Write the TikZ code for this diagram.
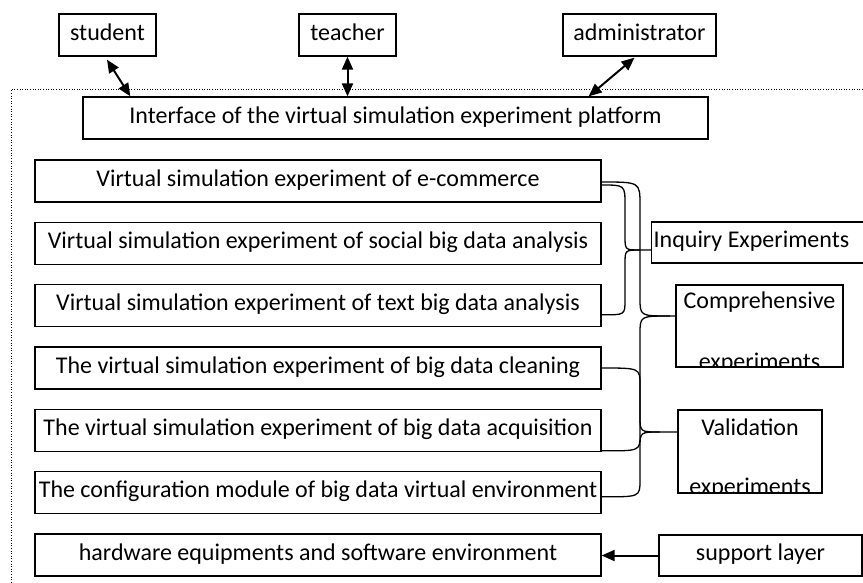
\documentclass[tikz,border=0pt]{standalone}
\usepackage{fontspec}
\setmainfont{Carlito}
\usetikzlibrary{arrows.meta,calc}
\begin{document}
\begin{tikzpicture}[x=1pt,y=-1pt,
  txt/.style={font=\fontsize{24}{28}\selectfont, inner sep=0pt},
  box/.style={draw, line width=1.3pt, inner sep=0pt, font=\fontsize{24}{28}\selectfont, text height=16pt, text depth=6pt},
  frame/.style={draw, line width=1.3pt, inner sep=0pt},
  conn/.style={line width=1.3pt},
  dbl/.style={line width=2pt, {Triangle[length=13pt,width=11pt]}-{Triangle[length=13pt,width=11pt]}},
  sgl/.style={line width=2pt, -{Triangle[length=13pt,width=11pt]}},
]
\useasboundingbox (0,0) rectangle (863,582);
\draw[line width=1pt, dash pattern=on 1pt off 1.6pt] (863,89) -- (11.5,89) -- (11.5,582);

% top roles
\node[box, minimum width=97pt, minimum height=42pt] (student) at (107.5,35) {student};
\node[box, minimum width=97pt, minimum height=42pt] (teacher) at (347.5,35) {teacher};
\node[box, minimum width=153pt, minimum height=42pt] (admin) at (639.5,35) {administrator};

% interface
\node[box, minimum width=625pt, minimum height=42pt] (iface) at (395.5,118) {Interface of the virtual simulation experiment platform};

% experiment boxes
\node[box, minimum width=566pt, minimum height=42pt] (e1) at (318,181) {Virtual simulation experiment of e-commerce};
\node[box, minimum width=566pt, minimum height=42pt] (e2) at (318,243.3) {Virtual simulation experiment of social big data analysis};
\node[box, minimum width=566pt, minimum height=42pt] (e3) at (318,305.7) {Virtual simulation experiment of text big data analysis};
\node[box, minimum width=566pt, minimum height=42pt] (e4) at (318,368) {The virtual simulation experiment of big data cleaning};
\node[box, minimum width=566pt, minimum height=42pt] (e5) at (318,430.3) {The virtual simulation experiment of big data acquisition};
\node[box, minimum width=566pt, minimum height=42pt] (e6) at (318,492.7) {The configuration module of big data virtual environment};
\node[box, minimum width=566pt, minimum height=42pt] (e7) at (318,555) {hardware equipments and software environment};

% right side categories
\node[box, anchor=west, minimum height=41pt, text width=228pt, align=flush left, inner xsep=2pt] (inq) at (651,242.5) {Inquiry Experiments};

\node[frame, minimum width=167pt, minimum height=82pt] (comp) at (759.5,326) {};
\node[txt, anchor=base] (compa) at (759.5,308.5) {Comprehensive};
\begin{scope}
  \clip (comp.south west) rectangle (comp.north east);
  \node[txt, anchor=base] (compb) at (759.5,369.5) {experiments};
\end{scope}

\node[frame, minimum width=144pt, minimum height=83pt] (val) at (750,451.5) {};
\node[txt, anchor=base] (vala) at (750,435) {Validation};
\begin{scope}
  \clip (val.south west) rectangle (val.north east);
  \node[txt, anchor=base] (valb) at (750,494.5) {experiments};
\end{scope}

\node[box, minimum width=203pt, minimum height=41pt] (sup) at (760.5,555.5) {support layer};

% arrows
\draw[dbl] ($(student.south)+(-0.5,3)$) -- ($(iface.north west)+(48,0)$);
\draw[dbl] (teacher.south) -- (iface.north -| teacher.south);
\draw[dbl] ($(admin.south)+(-5,1)$) -- ($(iface.north east)+(-120,0)$);
\draw[sgl] (sup.west) -- (e7.east |- sup.west);

% braces
\coordinate (tI) at (640,250);
\coordinate (tC) at (670,316);
\coordinate (tV) at (660,432);
% Inquiry
\draw[conn] ($(e1.east)+(0,4)$) .. controls (625,185) .. (625,205) -- (625,236) .. controls (625,250) .. (tI) -- (inq.west |- tI);
\draw[conn] ($(e3.east)+(0,9)$) .. controls (625,315) .. (625,300) -- (625,264) .. controls (625,250) .. (tI);
% Comprehensive
\draw[conn] ($(e1.east)+(0,1)$) .. controls (640,182) .. (640,205) -- (640,298) .. controls (640,316) .. (tC) -- (comp.west |- tC);
\draw[conn] ($(e5.east)+(0,20.5)$) .. controls (640,451) .. (640,435) -- (640,334) .. controls (640,316) .. (tC);
% Validation
\draw[conn] (e4.east) .. controls (640,368) .. (640,385) -- (640,416) .. controls (640,432) .. (tV) -- (val.west |- tV);
\draw[conn] ($(e6.east)+(0,4)$) .. controls (640,497) .. (640,480) -- (640,448) .. controls (640,432) .. (tV);
\end{tikzpicture}
\end{document}
